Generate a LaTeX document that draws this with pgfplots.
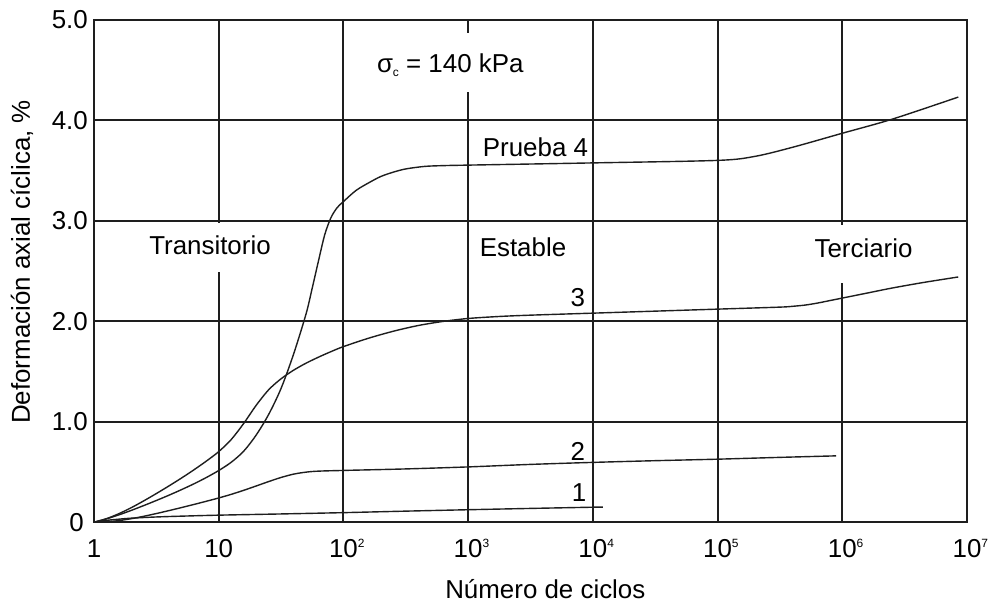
\documentclass[border=0pt]{standalone}
\usepackage{pgfplots}
\usepackage{pgfplotstable}
\pgfplotsset{compat=1.18}
\usepackage{fontspec}
\setmainfont{Liberation Sans}
\usetikzlibrary{calc}
\newcommand{\bigf}{\fontsize{26}{31}\selectfont}
\newcommand{\supx}[1]{\rlap{\raisebox{10bp}{\fontsize{12}{12}\selectfont #1}}}
\definecolor{ink}{HTML}{1E1E1E}
% lx = log10(number of cycles), y = deformation %
\pgfplotstableread{
lx y
0 0
0.1 0.018
0.2 0.030
0.3 0.040
0.5 0.052
0.7 0.060
1.0 0.070
1.5 0.082
2.0 0.095
2.5 0.110
3.0 0.124
3.5 0.137
4.0 0.149
4.08 0.150
}\pone
\pgfplotstableread{
lx y
0 0
0.1 0.004
0.2 0.016
0.3 0.035
0.4 0.059
0.5 0.086
0.6 0.115
0.7 0.145
0.8 0.176
0.9 0.208
1.0 0.241
1.1 0.277
1.2 0.317
1.3 0.360
1.4 0.404
1.5 0.445
1.6 0.478
1.7 0.498
1.8 0.508
2.0 0.515
2.5 0.530
3.0 0.550
3.5 0.575
4.0 0.595
4.5 0.612
5.0 0.627
5.5 0.645
5.95 0.660
}\ptwo
\pgfplotstableread{
lx y
0 0
0.1 0.035
0.2 0.085
0.3 0.145
0.4 0.213
0.5 0.285
0.6 0.360
0.7 0.438
0.8 0.520
0.9 0.607
1.0 0.702
1.1 0.822
1.2 0.982
1.3 1.162
1.4 1.317
1.5 1.427
1.6 1.512
1.7 1.582
1.8 1.642
1.9 1.697
2.0 1.747
2.2 1.830
2.4 1.900
2.6 1.957
2.8 1.998
3.0 2.027
3.25 2.047
3.5 2.060
4.0 2.080
4.5 2.100
5.0 2.120
5.5 2.140
5.6 2.148
5.7 2.160
5.8 2.180
5.9 2.205
6.0 2.230
6.2 2.280
6.4 2.330
6.65 2.385
6.93 2.440
}\pthree
\pgfplotstableread{
lx y
0 0
0.1 0.033
0.2 0.073
0.3 0.118
0.4 0.166
0.5 0.216
0.6 0.268
0.7 0.323
0.8 0.381
0.9 0.444
1.0 0.514
1.1 0.596
1.2 0.706
1.3 0.866
1.4 1.071
1.5 1.331
1.6 1.671
1.7 2.071
1.75 2.330
1.8 2.600
1.85 2.860
1.9 3.030
1.95 3.130
2.0 3.190
2.1 3.300
2.2 3.375
2.3 3.440
2.4 3.483
2.5 3.515
2.65 3.540
2.8 3.548
3.0 3.553
4.0 3.575
5.0 3.600
5.3 3.640
5.6 3.730
6.0 3.870
6.4 4.010
6.93 4.230
}\pfour
\begin{document}
\begin{tikzpicture}
\begin{axis}[
  scale only axis,
  width=873bp, height=502.5bp,
  xmode=log, log basis x=10,
  xmin=1, xmax=1e7, ymin=0, ymax=5,
  xtick={1,10,100,1000,10000,100000,1000000,10000000},
  xticklabels={1,10,10\supx{2},10\supx{3},10\supx{4},10\supx{5},10\supx{6},10\supx{7}},
  ytick={0,1,2,3,4,5},
  yticklabels={\raisebox{-5bp}{0\hspace{4bp}},1.0,2.0,3.0,4.0,5.0},
  minor xtick={}, minor ytick={},
  major tick length=0pt,
  grid=major,
  major grid style={draw=ink, line width=2bp},
  axis line style={draw=ink, line width=2bp},
  every tick label/.append style={font=\bigf},
  xticklabel style={anchor=base, inner sep=0pt, yshift=-35bp},
  yticklabel style={anchor=east, inner sep=0pt, xshift=-6bp},
  xlabel={Número de ciclos},
  ylabel={Deformación axial cíclica, \%},
  label style={font=\bigf},
  xlabel style={at={(axis description cs:0.517,-0.151)}, anchor=base},
  ylabel style={at={(axis description cs:-0.0825,0.518)}, anchor=center, rotate=0},
  clip=false,
]
\addplot[ink, line width=1.4bp, smooth] table[x expr=10^\thisrow{lx}, y=y] {\pone};
\addplot[ink, line width=1.4bp, smooth] table[x expr=10^\thisrow{lx}, y=y] {\ptwo};
\addplot[ink, line width=1.4bp, smooth] table[x expr=10^\thisrow{lx}, y=y] {\pthree};
\addplot[ink, line width=1.4bp, smooth] table[x expr=10^\thisrow{lx}, y=y] {\pfour};
% gaps in the grid behind the labels
\draw[white, line width=7bp] (axis cs:10,2.975) -- (axis cs:10,2.49);
\draw[white, line width=7bp] (axis cs:1e6,2.955) -- (axis cs:1e6,2.378);
\draw[white, line width=7bp] (axis cs:1000,4.866) -- (axis cs:1000,4.279);
% labels
\node[font=\bigf] at (axis cs:719.0,4.55) {σ\raisebox{-4bp}{\fontsize{12}{12}\selectfont c} = 140 kPa};
\node[font=\bigf] at (axis cs:3467,3.73) {Prueba 4};
\node[font=\bigf] at (axis cs:2754,2.74) {Estable};
\node[font=\bigf] at (axis cs:8.51,2.76) {Transitorio};
\node[font=\bigf] at (axis cs:1479108,2.73) {Terciario};
\node[font=\bigf] at (axis cs:7586,2.23) {3};
\node[font=\bigf] at (axis cs:7586,0.70) {2};
\node[font=\bigf] at (axis cs:7762,0.29) {1};
\end{axis}
\path ($(current axis.south west)+(-94bp,-80bp)$) rectangle ($(current axis.north east)+(21bp,19.7bp)$);
\end{tikzpicture}
\end{document}
